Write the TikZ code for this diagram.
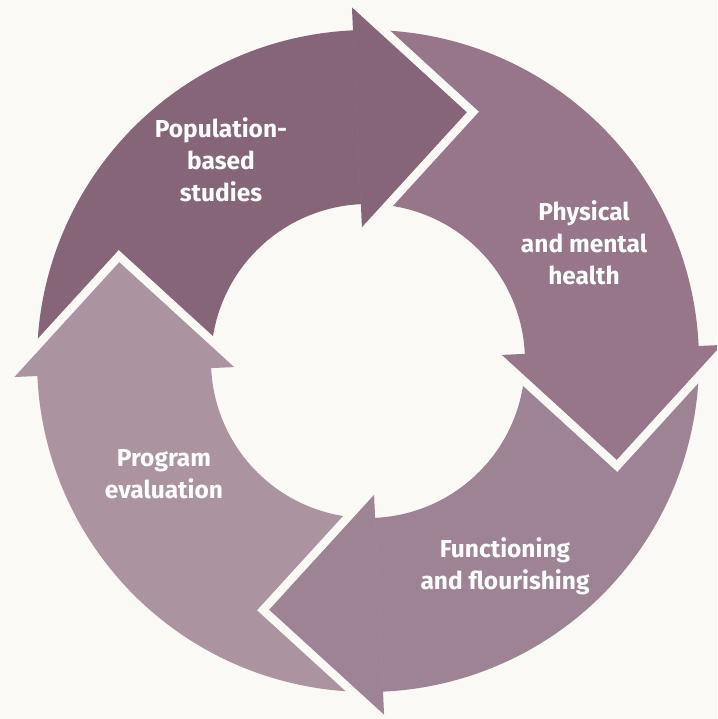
\documentclass[tikz,border=0pt]{standalone}
\usepackage{fontspec}
\setmainfont{Fira Sans}
\definecolor{bg}{HTML}{FBF9F5}
\definecolor{popcol}{HTML}{866579}
\definecolor{physcol}{HTML}{967688}
\definecolor{funccol}{HTML}{9E8394}
\definecolor{progcol}{HTML}{AB94A0}
\begin{document}
\begin{tikzpicture}[x=1pt,y=1pt,
	headgap/.style={draw=bg,line width=17pt,line join=miter},
	cyclelabel/.style={text=white,font=\fontsize{24.5}{32}\selectfont\bfseries,align=center}]
	\useasboundingbox (-368,-358) rectangle (349,361);
	\clip (-368,-358) rectangle (349,361);
	\fill[bg] (-368,-358) rectangle (349,361);
	% ring pieces, clockwise (each runs a bit on under its own head)
	\fill[popcol] (182.6:331) arc[start angle=182.6,end angle=90.6,radius=331] -- (90.6:157) arc[start angle=90.6,end angle=182.6,radius=157] -- cycle;
	\fill[physcol] (92.6:331) arc[start angle=92.6,end angle=0.6,radius=331] -- (0.6:157) arc[start angle=0.6,end angle=92.6,radius=157] -- cycle;
	\fill[funccol] (2.6:331) arc[start angle=2.6,end angle=-89.4,radius=331] -- (-89.4:157) arc[start angle=-89.4,end angle=2.6,radius=157] -- cycle;
	\fill[progcol] (-87.4:331) arc[start angle=-87.4,end angle=-179.4,radius=331] -- (-179.4:157) arc[start angle=-179.4,end angle=-87.4,radius=157] -- cycle;
	% heads
	\draw[headgap] (92.6:354) -- ([shift={(2.6:110)}]92.6:244) -- (92.6:134);
	\fill[popcol] (92.6:354) -- ([shift={(2.6:110)}]92.6:244) -- (92.6:134) -- cycle;
	\draw[headgap] (2.6:354) -- ([shift={(-87.4:110)}]2.6:244) -- (2.6:134);
	\fill[physcol] (2.6:354) -- ([shift={(-87.4:110)}]2.6:244) -- (2.6:134) -- cycle;
	\draw[headgap] (-87.4:354) -- ([shift={(-177.4:110)}]-87.4:244) -- (-87.4:134);
	\fill[funccol] (-87.4:354) -- ([shift={(-177.4:110)}]-87.4:244) -- (-87.4:134) -- cycle;
	\draw[headgap] (-177.4:354) -- ([shift={(92.6:110)}]-177.4:244) -- (-177.4:134);
	\fill[progcol] (-177.4:354) -- ([shift={(92.6:110)}]-177.4:244) -- (-177.4:134) -- cycle;
	% labels
	\node[cyclelabel] (pop) at (-147,201) {Population-\\based\\studies};
	\node[cyclelabel] (phys) at (216,118) {Physical\\and mental\\health};
	\node[cyclelabel] (func) at (137,-205) {Functioning\\and flourishing};
	\node[cyclelabel] (prog) at (-204,-113) {Program\\evaluation};
\end{tikzpicture}
\end{document}
